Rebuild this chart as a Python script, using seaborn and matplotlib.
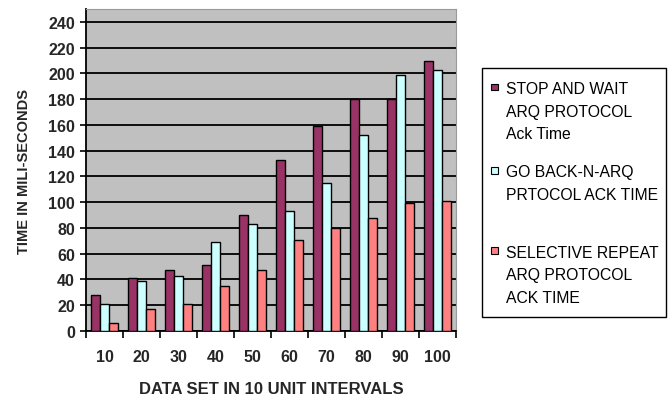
import matplotlib
matplotlib.use("Agg")
import matplotlib.pyplot as plt
import seaborn as sns
import pandas as pd
from matplotlib.patches import Rectangle

intervals = ["10", "20", "30", "40", "50", "60", "70", "80", "90", "100"]
stop_and_wait = [28, 41, 47, 51, 90, 133, 159, 180, 180, 210]
go_back_n = [21, 39, 43, 69, 83, 93, 115, 152, 199, 203]
selective_repeat = [6, 17, 21, 35, 47, 71, 80, 88, 99, 101]

series_names = [
    "STOP AND WAIT ARQ PROTOCOL Ack Time",
    "GO BACK-N-ARQ PRTOCOL ACK TIME",
    "SELECTIVE REPEAT ARQ PROTOCOL ACK TIME",
]
legend_lines = [
    ["STOP AND WAIT", "ARQ PROTOCOL", "Ack Time"],
    ["GO BACK-N-ARQ", "PRTOCOL ACK TIME"],
    ["SELECTIVE REPEAT", "ARQ PROTOCOL", "ACK TIME"],
]
colors = ["#993366", "#CCFFFF", "#FF8080"]

rows = []
for name, vals in zip(series_names, [stop_and_wait, go_back_n, selective_repeat]):
    for x, v in zip(intervals, vals):
        rows.append({"interval": x, "time": v, "series": name})
df = pd.DataFrame(rows)

sns.set_theme(style="white")
plt.rcParams["font.family"] = ["Liberation Sans", "DejaVu Sans"]

W, H = 672, 402
fig = plt.figure(figsize=(W / 100, H / 100), dpi=100)
ax = fig.add_axes([86 / W, 1 - 332 / H, (456 - 86) / W, (332 - 10) / H])
ax.set_facecolor("#C0C0C0")

sns.barplot(data=df, x="interval", y="time", hue="series", order=intervals,
            hue_order=series_names, palette=colors, saturation=1,
            edgecolor="black", linewidth=1, width=0.72, ax=ax, legend=False,
            zorder=3)

ax.set_ylim(0, 250)
ax.set_xlim(-0.5, len(intervals) - 0.5)
ax.set_yticks(range(0, 241, 20))
ax.yaxis.grid(True, color="black", linewidth=1.3, zorder=0)
ax.set_axisbelow(True)

for s in ["top", "right"]:
    ax.spines[s].set_color("#9a9a9a")
    ax.spines[s].set_linewidth(0.8)
for s in ["left", "bottom"]:
    ax.spines[s].set_color("black")
    ax.spines[s].set_linewidth(1.3)

# tick marks on group boundaries, labels centred under each group
ax.set_xticks([i - 0.5 for i in range(len(intervals) + 1)], minor=False)
ax.set_xticklabels([])
ax.set_xticks(range(len(intervals)), minor=True)
ax.set_xticklabels(intervals, minor=True, fontsize=11.5, fontweight="bold")
ax.tick_params(axis="x", which="major", direction="out", length=5, width=1.2,
               color="black", bottom=True)
ax.tick_params(axis="x", which="minor", length=0, pad=13, bottom=True)
ax.tick_params(axis="y", direction="out", length=4, width=1.2, color="black",
               left=True, labelsize=11.5, pad=4)
for lbl in ax.get_yticklabels():
    lbl.set_fontweight("bold")

ax.set_xlabel("DATA SET IN 10 UNIT INTERVALS", fontsize=12, fontweight="bold",
              labelpad=12)
ax.set_ylabel("TIME IN MILI-SECONDS", fontsize=10.5, fontweight="bold", labelpad=12)

# legend panel drawn in pixel positions of the figure
def fx(px):
    return px / W

def fy(py):
    return 1 - py / H

box = Rectangle((fx(482.5), fy(317.5)), fx(665.5) - fx(482.5), fy(69) - fy(317.5),
                transform=fig.transFigure, facecolor="white", edgecolor="black",
                linewidth=1.0)
fig.add_artist(box)

first_baselines = [94, 177.5, 257.5]
line_step = 22.7
for lines, color, base in zip(legend_lines, colors, first_baselines):
    sq = Rectangle((fx(491), fy(base - 3)), fx(6.5), fy(0) - fy(6.5),
                   transform=fig.transFigure, facecolor=color,
                   edgecolor="black", linewidth=0.8)
    fig.add_artist(sq)
    for k, line in enumerate(lines):
        fig.text(fx(506), fy(base + k * line_step), line, fontsize=11.3,
                 ha="left", va="baseline", color="black")

fig.savefig("out.png", dpi=100, facecolor="white")
